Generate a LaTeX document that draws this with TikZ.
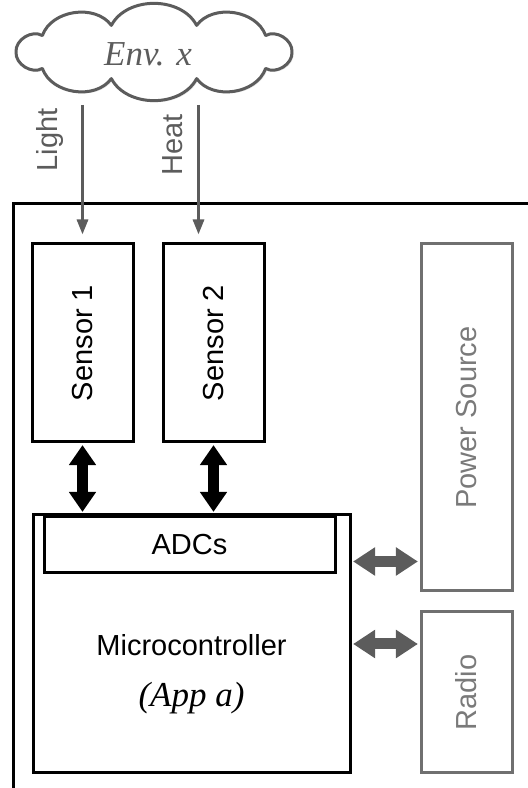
\documentclass[tikz,border=0pt]{standalone}
\usepackage{fontspec}
\setmainfont{Liberation Serif}
\setsansfont{Liberation Sans}
\usetikzlibrary{arrows.meta, shapes, positioning, calc, shadows}
\definecolor{arrgray}{HTML}{5C5C5C}
\definecolor{boxgray}{HTML}{707070}
\definecolor{txtgray}{HTML}{7A7A7A}
\tikzset{
  blk/.style={rectangle, draw=black, line width=1.5pt, inner sep=0pt,
              font=\sffamily\fontsize{14.5}{17}\selectfont},
  gblk/.style={blk, draw=boxgray, text=txtgray},
  lbl/.style={font=\sffamily\fontsize{14.5}{17}\selectfont, text=arrgray, inner sep=0pt},
  it/.style={font=\itshape\fontsize{17.5}{20}\selectfont, inner sep=0pt},
  envline/.style={draw=arrgray, line width=1.5pt, fill=white, line join=round,
              drop shadow={shadow xshift=0.8pt, shadow yshift=-0.8pt, opacity=0.2}},
  flow/.style={-{Triangle[width=5.5pt,length=7.5pt]}, line width=1.5pt, draw=arrgray},
  io/.style={{Triangle[width=13pt,length=10pt]}-{Triangle[width=13pt,length=10pt]},
             line width=5.5pt, shorten <=0.8pt, shorten >=0.8pt},
  gio/.style={io, draw=arrgray, {Triangle[width=13.5pt,length=11pt]}-{Triangle[width=13.5pt,length=11pt]}}
}
\begin{document}
\begin{tikzpicture}[x=0.5pt, y=0.5pt]
  \useasboundingbox (0,0) rectangle (528,788);
  % outer frame (runs off the page)
  \begin{scope}
    \clip (0,0) rectangle (528,788);
    \draw[line width=1.5pt] (13,-20) |- (560,584);
  \end{scope}
  % cloud
  \coordinate (envc) at (154,736);
  \foreach \i in {0,...,10}
    \coordinate (cp\i) at ($(envc)+({138*cos(36*\i)},{28*sin(36*\i)})$);
  \draw[envline] (cp0) \foreach \i in {1,...,10} { to[bend right=62] (cp\i) } -- cycle;
  \node[it, text=arrgray] (envx) at (148,734) {Env. x};
  \node[blk, minimum width=50.5pt, minimum height=99pt] (s1) at (82.5,445) {\rotatebox{90}{Sensor 1}};
  \node[blk, minimum width=50.5pt, minimum height=99pt] (s2) at (213.5,445) {\rotatebox{90}{Sensor 2}};
  \node[blk, minimum width=158.5pt, minimum height=129pt] (mcu) at (191.5,144) {};
  \node[blk, minimum width=145.5pt, minimum height=28pt] (adc) at (189.5,243) {ADCs};
  \node[blk, inner sep=0pt, draw=none] (mcuname) at (191.5,143) {Microcontroller};
  \node[it] (mcuapp) at (191.5,90) {(App a)};
  \node[gblk, minimum width=45.5pt, minimum height=173.5pt] (pwr) at (466.5,370.5) {\rotatebox{90}{Power Source}};
  \node[gblk, minimum width=45.5pt, minimum height=80.5pt] (radio) at (466.5,95.5) {\rotatebox{90}{Radio}};
  \node[lbl, rotate=90] (light) at (50,648) {Light};
  \node[lbl, rotate=90] (heat) at (173,643) {Heat};
  % inputs from the environment
  \coordinate (envbot) at (envc |- 0,683);
  \coordinate (heatx) at ($(s2.north)+(-15,0)$);
  \draw[flow, shorten >=4pt] (envbot -| s1.north) -- (s1.north);
  \draw[flow, shorten >=4pt] (envbot -| heatx) -- (heatx);
  % sensor <-> ADC
  \draw[io] (s1.south) -- (s1.south |- mcu.north);
  \draw[io] (s2.south) -- (s2.south |- mcu.north);
  % mcu <-> peripherals
  \coordinate (pwrin) at ($(pwr.south west)+(0,31)$);
  \draw[gio] (mcu.east |- pwrin) -- (pwrin);
  \draw[gio] (mcu.east) -- (radio.west |- mcu.east);
\end{tikzpicture}
\end{document}
